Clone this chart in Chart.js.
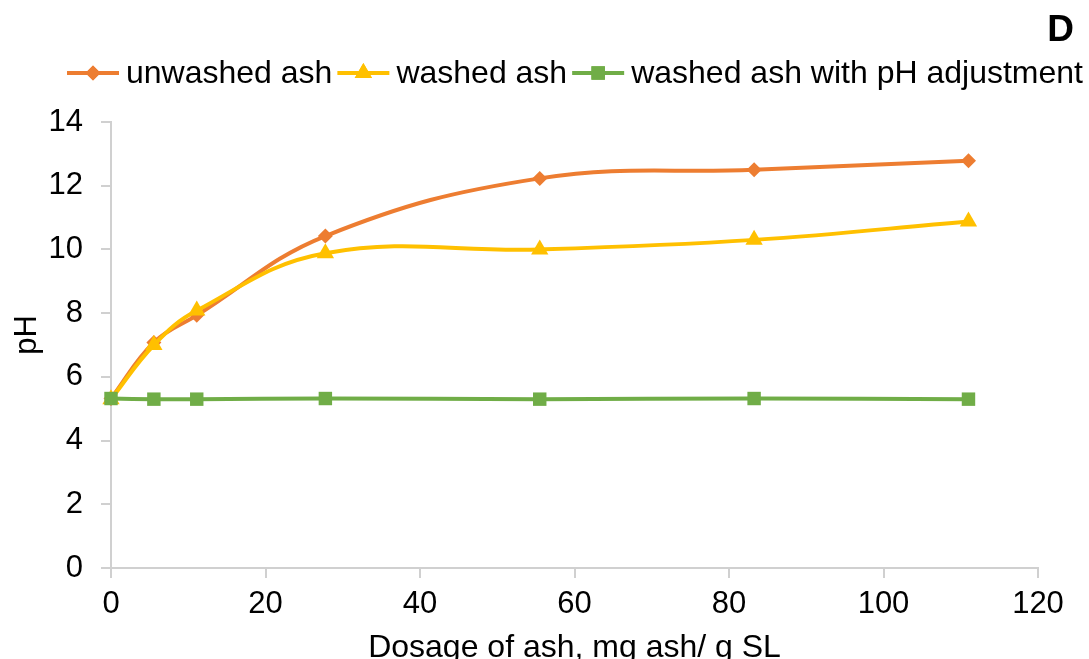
<!DOCTYPE html>
<html>
<head>
<meta charset="utf-8">
<script src="https://cdn.jsdelivr.net/npm/chart.js@4"></script>
<style>
  html, body { margin: 0; padding: 0; background: #fff; }
  #wrap { width: 1089px; height: 659px; }
</style>
</head>
<body>
<div id="wrap"><canvas id="phChart" width="1089" height="659"></canvas></div>
<script>
// dosage of ash (mg ash / g SL)
const dosage = [0, 5.55, 11.1, 27.75, 55.5, 83.25, 111];
const unwashed = [5.32, 7.08, 7.93, 10.42, 12.23, 12.5, 12.78];
const washed = [5.3, 7.0, 8.08, 9.88, 10.0, 10.3, 10.88];
const washedAdj = [5.32, 5.3, 5.3, 5.32, 5.3, 5.32, 5.3];
const seriesNames = ['unwashed ash', 'washed ash', 'washed ash with pH adjustment'];

const FONT = 'Liberation Sans, Arial, sans-serif';
const AXIS = '#d0d0d0';

const toPoints = (ys) => ys.map((y, i) => ({ x: dosage[i], y }));

const makeSet = (label, ys, color, style, radius, order) => ({
  label,
  data: toPoints(ys),
  borderColor: color,
  backgroundColor: color,
  borderWidth: 4,
  pointStyle: style,
  pointRadius: radius,
  pointBorderWidth: 0,
  tension: 0.4,
  clip: false,
  order
});

// legend drawn Excel style (line + marker + text), plus y title and panel letter
const legendPlugin = {
  id: 'excelLegend',
  afterDraw(chart) {
    const { ctx } = chart;
    ctx.save();
    ctx.font = '32px ' + FONT;
    ctx.textBaseline = 'middle';
    const y = 73;
    let x = 67;
    chart.data.datasets.forEach((ds) => {
      ctx.strokeStyle = ds.borderColor;
      ctx.lineWidth = 4;
      ctx.beginPath();
      ctx.moveTo(x, y);
      ctx.lineTo(x + 52, y);
      ctx.stroke();
      ctx.fillStyle = ds.backgroundColor;
      Chart.helpers.drawPoint(ctx, { pointStyle: ds.pointStyle, radius: ds.pointRadius, borderWidth: 0 }, x + 26, y);
      ctx.fill();
      ctx.fillStyle = '#000';
      ctx.fillText(ds.label, x + 59, y + 1);
      x += 59 + ctx.measureText(ds.label).width + 5;
    });

    // y axis title
    ctx.save();
    ctx.translate(27, 335);
    ctx.rotate(-Math.PI / 2);
    ctx.textAlign = 'center';
    ctx.font = '31px ' + FONT;
    ctx.fillText('pH', 0, 0);
    ctx.restore();

    // panel letter
    ctx.font = 'bold 37px ' + FONT;
    ctx.textAlign = 'right';
    ctx.textBaseline = 'alphabetic';
    ctx.fillText('D', 1074, 41);
    ctx.restore();
  }
};

new Chart(document.getElementById('phChart'), {
  type: 'line',
  data: {
    datasets: [
      makeSet(seriesNames[0], unwashed, '#ED7D31', 'rectRot', 7.5, 3),
      makeSet(seriesNames[1], washed, '#FFC000', 'triangle', 10, 2),
      makeSet(seriesNames[2], washedAdj, '#70AD47', 'rect', 9.5, 1)
    ]
  },
  options: {
    responsive: false,
    animation: false,
    layout: { padding: { top: 122, right: 51, left: 0, bottom: 0 } },
    plugins: { legend: { display: false }, tooltip: { enabled: false } },
    scales: {
      x: {
        type: 'linear',
        min: 0,
        max: 120,
        afterFit: (s) => { s.height = 91; },
        ticks: { stepSize: 20, color: '#000', padding: 8, font: { family: FONT, size: 31 } },
        grid: { drawOnChartArea: false, drawTicks: true, tickLength: 10, color: AXIS, lineWidth: 2 },
        border: { color: AXIS, width: 2 },
        title: {
          display: true,
          text: 'Dosage of ash, mg ash/ g SL',
          color: '#000',
          font: { family: FONT, size: 32 },
          padding: { top: 0, bottom: -8 }
        }
      },
      y: {
        min: 0,
        max: 14,
        afterFit: (s) => { s.width = 111; },
        ticks: { stepSize: 2, color: '#000', padding: 18, font: { family: FONT, size: 31 } },
        grid: { drawOnChartArea: false, drawTicks: true, tickLength: 10, color: AXIS, lineWidth: 2 },
        border: { color: AXIS, width: 2 }
      }
    }
  },
  plugins: [legendPlugin]
});
</script>
</body>
</html>
